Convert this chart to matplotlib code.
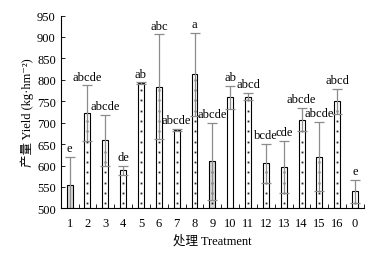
import numpy as np
import matplotlib.pyplot as plt

# treatment labels, mean yield, error (+/-) and significance letters
treatments = ['1', '2', '3', '4', '5', '6', '7', '8', '9', '10', '11', '12', '13', '14', '15', '16', '0']
yields = [555, 722, 659, 589, 792, 784, 683, 813, 610, 759, 761, 605, 597, 707, 621, 750, 540]
errors = [65, 65, 60, 10, 2, 122, 3, 97, 90, 26, 8, 45, 60, 27, 80, 29, 27]
letters = ['e', 'abcde', 'abcde', 'de', 'ab', 'abc', 'abcde', 'a', 'abcde', 'ab', 'abcd',
           'bcde', 'cde', 'abcde', 'abcde', 'abcd', 'e']
fills = ['#d8d8d8', 'white', 'white', 'white', 'white', 'white', 'white', 'white', '#d8d8d8',
         'white', 'white', 'white', 'white', 'white', 'white', 'white', 'white']
dotted = [False, True, True, True, True, True, True, True, True, False, True, True, True,
          True, True, True, True]

plt.rcParams['font.family'] = ['Liberation Serif', 'Noto Sans CJK SC', 'DejaVu Serif']

fig = plt.figure(figsize=(3.84, 2.55), dpi=100)
ax = fig.add_axes([0.158, 0.179, 0.79, 0.756])

x = np.arange(len(treatments)) + 0.5
ax.bar(x, np.array(yields) - 500, bottom=500, width=0.33, color=fills,
       edgecolor='black', linewidth=0.8, zorder=2)

# sparse dot fill inside the bars
for xi, y, d in zip(x, yields, dotted):
    if d:
        ys = np.arange(512, y - 5, 24)
        ax.plot(np.full(len(ys), xi), ys, ls='none', marker='s', ms=1.3,
                mec='none', mfc='#222222', zorder=2.5)

ax.errorbar(x, yields, yerr=errors, fmt='none', ecolor='#8c8c8c', elinewidth=0.9,
            capsize=3.5, capthick=0.9, zorder=3)

for xi, y, e, lab in zip(x, yields, errors, letters):
    ax.annotate(lab, (xi, y + e), xytext=(0, 2), textcoords='offset points',
                ha='center', va='bottom', fontsize=9)

ax.set_xlim(0, len(treatments))
ax.set_ylim(500, 950)
ax.set_yticks(np.arange(500, 951, 50))
ax.set_xticks(x)
ax.set_xticklabels(treatments)
ax.set_xticks(np.arange(0, len(treatments) + 1), minor=True)
ax.tick_params(axis='x', which='major', length=0, labelsize=9, pad=6)
ax.tick_params(axis='x', which='minor', direction='in', length=3, width=0.6)
ax.tick_params(axis='y', direction='in', length=3, width=0.6, labelsize=9)

ax.spines['top'].set_visible(False)
ax.spines['right'].set_visible(False)
ax.spines['left'].set_linewidth(0.8)
ax.spines['bottom'].set_linewidth(0.8)

ax.set_xlabel('处理 Treatment', fontsize=9, labelpad=4)
ax.set_ylabel('产量 Yield (kg·hm⁻²)', fontsize=9, labelpad=2)

fig.savefig('out.png', dpi=100)
